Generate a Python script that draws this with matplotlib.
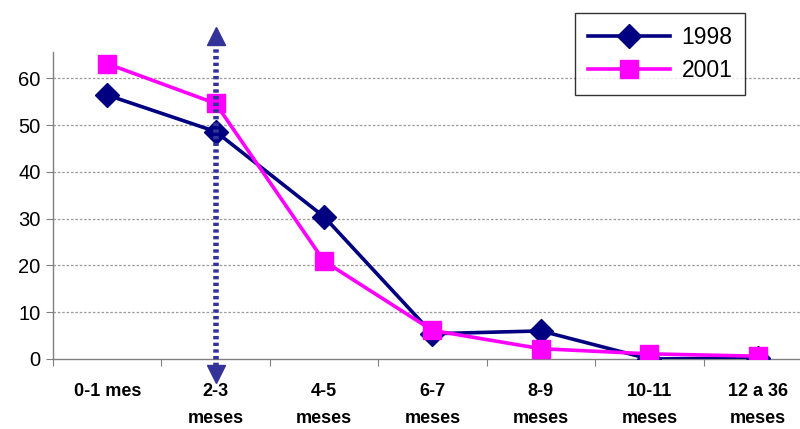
import matplotlib

matplotlib.use("Agg")
import matplotlib.pyplot as plt

categories = ["0-1 mes", "2-3\nmeses", "4-5\nmeses", "6-7\nmeses", "8-9\nmeses", "10-11\nmeses", "12 a 36\nmeses"]
values_1998 = [56.4, 48.6, 30.4, 5.4, 6.0, 0.0, 0.2]
values_2001 = [63.1, 54.6, 20.9, 6.1, 2.2, 1.1, 0.6]
y_ticks = [0, 10, 20, 30, 40, 50, 60]
marker_category = 1  # "2-3 meses"

plt.rcParams["font.family"] = ["Liberation Sans", "DejaVu Sans"]

fig = plt.figure(figsize=(8, 4.29), dpi=100)
ax = fig.add_axes([53 / 800, (429 - 359) / 429, 759 / 800, 307 / 429])

x = list(range(len(categories)))
ax.plot(x, values_1998, color="#000080", lw=2.6, marker="D", ms=12, label="1998", zorder=3)
ax.plot(x, values_2001, color="#FF00FF", lw=2.6, marker="s", ms=12.5, label="2001", zorder=4)

# vertical dotted arrow at 2-3 meses
arrow_c = "#333399"
ax.plot([marker_category, marker_category], [-1.5, 67.5], color=arrow_c, lw=4,
        linestyle=(0, (0.6, 0.6)), clip_on=False, zorder=5)
ax.plot([marker_category], [69.0], marker="^", color=arrow_c, ms=13, clip_on=False, zorder=6)
ax.plot([marker_category], [-3.2], marker="v", color=arrow_c, ms=13, clip_on=False, zorder=6)

ax.set_xlim(-0.5, len(categories) - 0.5)
ax.set_ylim(0, 65.6)
ax.set_yticks(y_ticks)
ax.set_yticklabels([str(t) for t in y_ticks], fontsize=14.5)
ax.set_xticks([i - 0.5 for i in range(len(categories))])
ax.set_xticklabels([])
ax.set_xticks(x, minor=True)
ax.set_xticklabels(categories, minor=True, fontsize=13, fontweight="bold", linespacing=1.8)
ax.tick_params(axis="x", which="minor", length=0, pad=17)
ax.tick_params(axis="x", which="major", length=5, direction="out", color="#808080")
ax.tick_params(axis="y", length=5, direction="out", color="#808080", pad=4)

for t in y_ticks[1:]:
    ax.axhline(t, color="#999999", lw=0.9, linestyle=(0, (2, 1.5)), zorder=1)

for side in ["top", "right"]:
    ax.spines[side].set_visible(False)
for side in ["left", "bottom"]:
    ax.spines[side].set_color("#808080")
    ax.spines[side].set_linewidth(1.0)

leg = fig.legend(loc="upper left", bbox_to_anchor=(575 / 800, 1 - 13 / 429), fontsize=16.5,
                 frameon=True, fancybox=False, edgecolor="black", handlelength=3.6,
                 borderpad=0.55, labelspacing=0.45, borderaxespad=0, handletextpad=0.5)
leg.get_frame().set_linewidth(1.0)

fig.savefig("out.png", dpi=100)
plt.close(fig)
